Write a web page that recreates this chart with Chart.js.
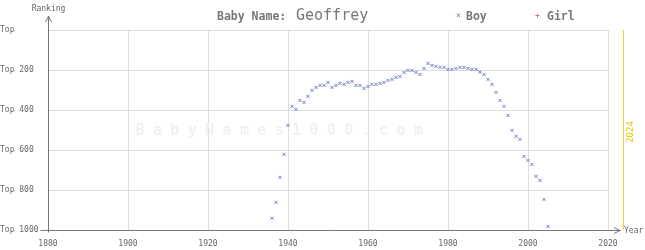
<!DOCTYPE html>
<html>
<head>
<meta charset="utf-8">
<script src="https://cdn.jsdelivr.net/npm/chart.js@4/dist/chart.umd.min.js"></script>
<style>
  html, body { margin: 0; padding: 0; background: #fff; }
  canvas { display: block; }
</style>
</head>
<body>
<canvas id="nameChart" width="645" height="250"></canvas>
<script>
const years = [
  1936, 1937, 1938, 1939, 1940, 1941, 1942, 1943, 1944, 1945,
  1946, 1947, 1948, 1949, 1950, 1951, 1952, 1953, 1954, 1955,
  1956, 1957, 1958, 1959, 1960, 1961, 1962, 1963, 1964, 1965,
  1966, 1967, 1968, 1969, 1970, 1971, 1972, 1973, 1974, 1975,
  1976, 1977, 1978, 1979, 1980, 1981, 1982, 1983, 1984, 1985,
  1986, 1987, 1988, 1989, 1990, 1991, 1992, 1993, 1994, 1995,
  1996, 1997, 1998, 1999, 2000, 2001, 2002, 2003, 2004, 2005
];
const boyRanks = [
  941, 862, 737, 622, 477, 382, 397, 352, 362, 332,
  302, 287, 277, 277, 262, 287, 277, 267, 272, 262,
  257, 277, 277, 292, 282, 272, 272, 267, 262, 252,
  247, 237, 232, 212, 202, 202, 212, 222, 192, 167,
  177, 182, 187, 187, 197, 197, 192, 187, 187, 192,
  197, 197, 210, 222, 247, 272, 312, 352, 382, 427,
  502, 532, 547, 632, 652, 672, 732, 752, 847, 982
];
const girlRanks = [];
const yearTicks = [1880, 1900, 1920, 1940, 1960, 1980, 2000, 2020];
const rankTicks = [0, 200, 400, 600, 800, 1000];
const currentYear = 2024;

const mono = "DejaVu Sans Mono";

// title, legend, axes arrows, watermark and the current-year marker
const decorations = {
  id: "decorations",
  beforeDatasetsDraw(chart) {
    const { ctx, chartArea } = chart;
    const text = "BabyNames1000.com";
    ctx.save();
    ctx.fillStyle = "#f1f1f1";
    ctx.font = "bold 15px " + mono;
    ctx.textAlign = "center";
    ctx.textBaseline = "middle";
    const step = 17.4;
    const x0 = 140;
    for (let i = 0; i < text.length; i++) {
      ctx.fillText(text[i], x0 + i * step, chartArea.top + 101);
    }
    ctx.restore();
  },
  afterDraw(chart) {
    const { ctx, chartArea } = chart;
    const xs = chart.scales.x;
    ctx.save();

    // current year line
    const cx = Math.round(xs.getPixelForValue(currentYear)) - 0.5;
    ctx.strokeStyle = "#f2d22e";
    ctx.lineWidth = 1;
    ctx.beginPath();
    ctx.moveTo(cx, chartArea.top);
    ctx.lineTo(cx, chartArea.bottom);
    ctx.stroke();
    ctx.save();
    ctx.translate(cx + 7, (chartArea.top + chartArea.bottom) / 2 + 2);
    ctx.rotate(-Math.PI / 2);
    ctx.fillStyle = "#e8c800";
    ctx.font = "9px " + mono;
    ctx.textAlign = "center";
    ctx.textBaseline = "middle";
    ctx.fillText(String(currentYear), 0, 0);
    ctx.restore();

    // axes
    ctx.strokeStyle = "#777";
    ctx.lineWidth = 1;
    const ax = chartArea.left + 0.5;
    const ay = chartArea.bottom + 0.5;
    ctx.beginPath();
    ctx.moveTo(ax, ay + 2);
    ctx.lineTo(ax, 16);
    ctx.moveTo(ax - 3, 22);
    ctx.lineTo(ax, 16);
    ctx.lineTo(ax + 3, 22);
    ctx.moveTo(ax - 8, ay);
    ctx.lineTo(621, ay);
    ctx.moveTo(614, ay - 3);
    ctx.lineTo(620, ay);
    ctx.lineTo(614, ay + 3);
    ctx.stroke();

    ctx.fillStyle = "#666";
    ctx.font = "8px " + mono;
    ctx.textBaseline = "middle";
    ctx.textAlign = "center";
    ctx.fillText("Ranking", ax, 9);
    ctx.textAlign = "left";
    ctx.fillText("Year", 624, ay);

    // title
    ctx.fillStyle = "#777";
    ctx.font = "bold 11.5px " + mono;
    ctx.fillText("Baby Name:", 217, 17);
    ctx.font = "15px " + mono;
    ctx.fillText("Geoffrey", 296, 16);

    // legend
    ctx.font = "bold 11.5px " + mono;
    ctx.fillText("Boy", 466, 17);
    ctx.fillText("Girl", 547, 17);
    ctx.font = "8px " + mono;
    ctx.fillStyle = "#7080c0";
    ctx.fillText("×", 456, 16);
    ctx.fillStyle = "#c05080";
    ctx.fillText("+", 535, 16);
    ctx.restore();
  }
};

new Chart(document.getElementById("nameChart").getContext("2d"), {
  type: "scatter",
  data: {
    datasets: [
      {
        label: "Boy",
        data: years.map((y, i) => ({ x: y, y: boyRanks[i] })),
        pointStyle: "crossRot",
        pointRadius: 2.2,
        borderWidth: 1,
        borderColor: "#6f7fc0",
        backgroundColor: "#6f7fc0"
      },
      {
        label: "Girl",
        data: girlRanks,
        pointStyle: "cross",
        pointRadius: 2.2,
        borderWidth: 1,
        borderColor: "#c05080"
      }
    ]
  },
  options: {
    responsive: false,
    animation: false,
    layout: { padding: { top: 30, right: 37, left: 0, bottom: 0 } },
    plugins: { legend: { display: false }, tooltip: { enabled: false } },
    scales: {
      x: {
        type: "linear",
        min: 1880,
        max: 2020,
        afterBuildTicks: (s) => { s.ticks = yearTicks.map((v) => ({ value: v })); },
        afterFit: (s) => { s.height = 20; },
        grid: { color: "#dddddd", drawTicks: false },
        border: { display: false },
        ticks: {
          color: "#666",
          font: { family: mono, size: 8 },
          padding: 9,
          maxRotation: 0,
          callback: (v) => String(v)
        }
      },
      y: {
        type: "linear",
        reverse: true,
        min: 0,
        max: 1000,
        afterBuildTicks: (s) => { s.ticks = rankTicks.map((v) => ({ value: v })); },
        afterFit: (s) => { s.width = 48; },
        grid: { color: "#dddddd", drawTicks: false },
        border: { display: false },
        ticks: {
          color: "#666",
          font: { family: mono, size: 8 },
          crossAlign: "far",
          callback: (v) => (v === 0 ? "Top" : "Top " + v)
        }
      }
    }
  },
  plugins: [decorations]
});
</script>
</body>
</html>
